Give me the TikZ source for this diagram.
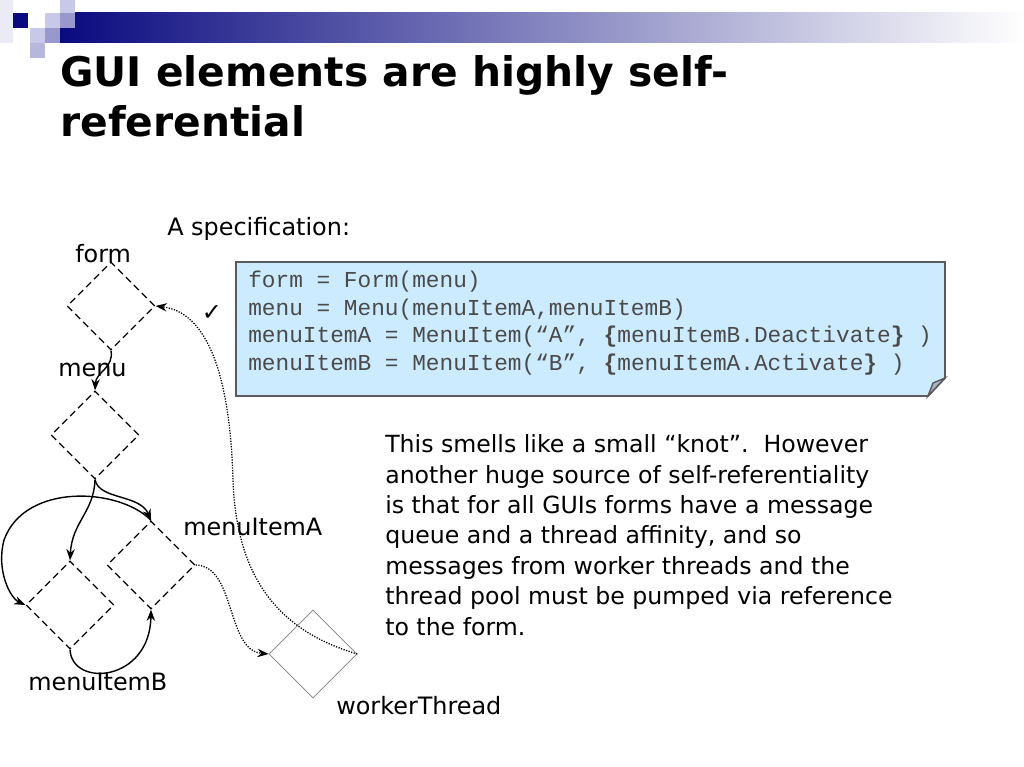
\documentclass[tikz,border=0pt]{standalone}
\usepackage{fontspec}
\setmainfont{DejaVu Sans}
\setmonofont{Liberation Mono}
\usetikzlibrary{shapes.geometric,arrows.meta}

\definecolor{navy}{HTML}{0A0A80}
\definecolor{lilac}{HTML}{C8C8E8}
\definecolor{midlilac}{HTML}{9898CC}
\definecolor{specfill}{HTML}{CCEBFF}
\definecolor{specline}{HTML}{5A5A5A}
\definecolor{codegray}{HTML}{4A4A4A}
\definecolor{foldgray}{HTML}{A8B4C0}

\tikzset{
	elem/.style={shape=diamond, draw, line width=0.9pt, dash pattern=on 5pt off 3pt, inner sep=0pt, minimum width=2.2cm, minimum height=2.2cm},
	thread/.style={shape=diamond, draw=gray, line width=0.5pt, inner sep=0pt, minimum width=2.2cm, minimum height=2.2cm},
	link/.style={line width=1pt, -{Stealth[length=8pt,width=6pt]}},
	msg/.style={line width=0.9pt, densely dotted, -{Stealth[length=8pt,width=6pt]}},
	lbl/.style={anchor=base west, inner sep=0pt, font=\fontsize{17}{20}\selectfont},
}

\begin{document}
\begin{tikzpicture}[x=0.025cm, y=-0.025cm]

		\useasboundingbox (0,0) rectangle (1024,767);

		\fill[white] (0,0) rectangle (1024,767);
		\shade[left color=navy, middle color=navy!40!white, right color=white] (60,13) rectangle (1024,43);
		\fill[navy!8] (0,0) rectangle (13,43);
		\fill[navy] (13,13) rectangle (28,28);
		\fill[lilac] (45,13) rectangle (60,28);
		\fill[lilac] (60,0) rectangle (75,13);
		\fill[midlilac] (60,13) rectangle (75,28);
		\fill[lilac] (30,28) rectangle (45,43);
		\fill[midlilac] (45,28) rectangle (60,43);
		\fill[midlilac!70!white] (30,43) rectangle (45,58);

		\node[anchor=base west, inner sep=0pt, align=left, font=\fontsize{29}{36}\selectfont\bfseries] (title) at (60,137) {GUI elements are highly self-\\referential};

		\node[lbl] (spectitle) at (167,235) {A specification:};

		\fill[specfill] (236,262) -- (945,262) -- (945,378) -- (928,396) -- (236,396) -- cycle;
		\draw[specline, line width=1.3pt] (236,262) -- (945,262) -- (945,378) -- (928,396) -- (236,396) -- cycle;
		\filldraw[fill=foldgray, draw=specline, line width=1pt] (945,378) -- (928,396) -- (933,383) -- cycle;
		\node[anchor=base west, inner sep=0pt, align=left, text=codegray, font=\fontsize{16.2}{19.5}\selectfont\ttfamily] (spec) at (248,370) {form = Form(menu)\\menu = Menu(menuItemA,menuItemB)\\menuItemA = MenuItem(“A”, \textbf{\{}menuItemB.Deactivate\textbf{\}} )\\menuItemB = MenuItem(“B”, \textbf{\{}menuItemA.Activate\textbf{\}} )};

		\node[inner sep=0pt, font=\fontsize{17}{20}\selectfont] (tick) at (212,313) {✓};

		\node[anchor=base west, inner sep=0pt, align=left, font=\fontsize{16.8}{21.6}\selectfont] (note) at (385,635) {This smells like a small “knot”.\ \ However\\another huge source of self-referentiality\\is that for all GUIs forms have a message\\queue and a thread affinity, and so\\messages from worker threads and the\\thread pool must be pumped via reference\\to the form.};

		\node[elem] (form) at (111,306) {};
		\node[elem] (menu) at (95,435) {};
		\node[elem] (itemB) at (70,605) {};
		\node[elem] (itemA) at (151,565) {};
		\node[thread] (worker) at (313,654) {};

		\node[lbl] (formlbl) at (75,262) {form};
		\node[lbl] (menulbl) at (58,376) {menu};
		\node[lbl] (itemAlbl) at (183,535) {menuItemA};
		\node[lbl] (itemBlbl) at (28,690) {menuItemB};
		\node[lbl] (workerlbl) at (336,714) {workerThread};

		\draw[link] (form.south) .. controls (114,368) and (96,372) .. (menu.north);
		\draw[link] (menu.south) .. controls (94,512) and (72,522) .. (itemB.north);
		\draw[link] (menu.south) .. controls (99,500) and (140,494) .. (itemA.north);
		\draw[link] (itemA.north) .. controls (120,488) and (25,482) .. (4,540) .. controls (-4,570) and (10,598) .. (itemB.west);
		\draw[link] (itemB.south) .. controls (72,688) and (150,682) .. (itemA.south);

		\draw[msg] (itemA.east) .. controls (236,566) and (226,650) .. (worker.west);
		\draw[msg] (worker.east) .. controls (268,628) and (236,565) .. (233,480) .. controls (230,372) and (206,312) .. (form.east);

	\end{tikzpicture}
\end{document}
